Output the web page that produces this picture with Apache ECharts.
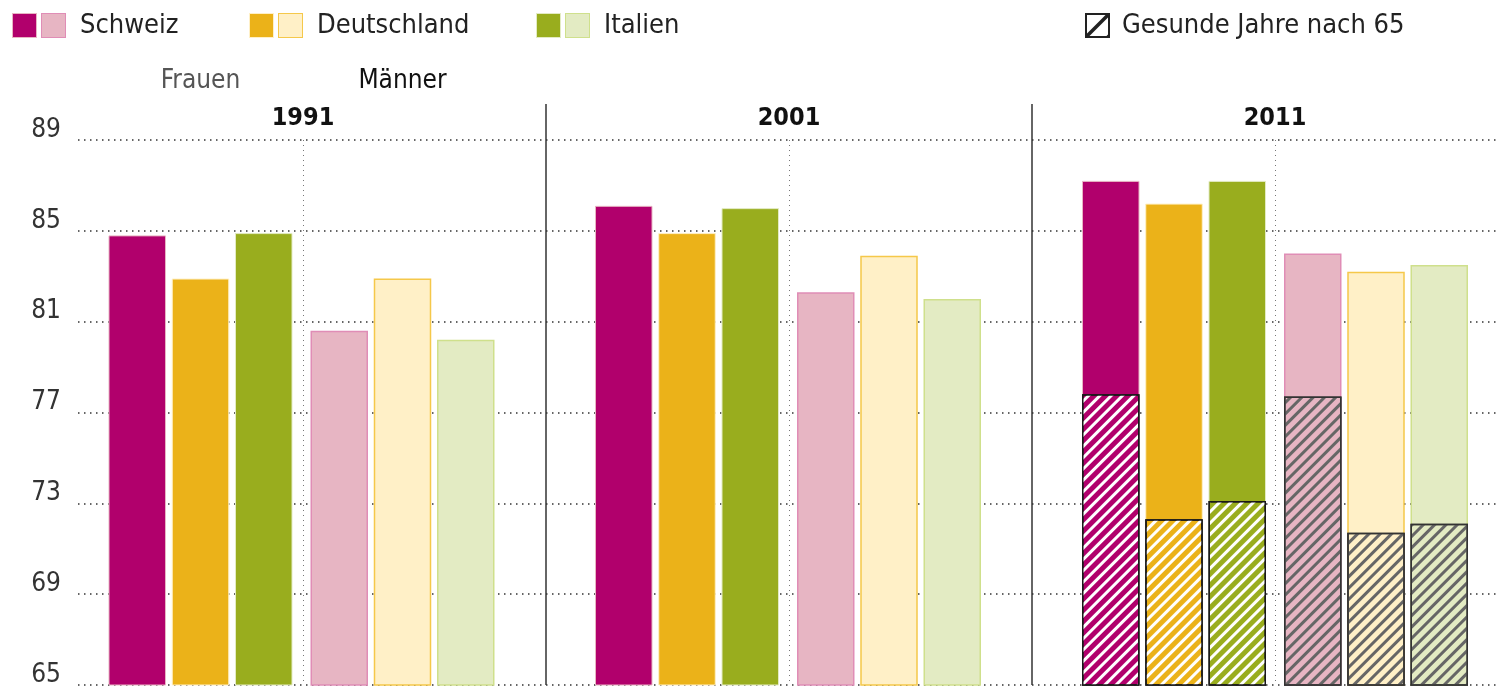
<!DOCTYPE html>
<html><head><meta charset="utf-8">
<script src="https://cdn.jsdelivr.net/npm/echarts@6/dist/echarts.min.js"></script>
<style>html,body{margin:0;padding:0;background:#fff}#c{width:1505px;height:689px}</style>
</head><body><div id="c"></div>
<script>
// ---- data ----
const years = ['1991', '2001', '2011'];
const sexes = ['Frauen', 'Männer'];
const countries = ['Schweiz', 'Deutschland', 'Italien'];
const healthyLabel = 'Gesunde Jahre nach 65';
const yMin = 65, yMax = 89, yStep = 4;

const schweizFrauen = [84.8, 86.1, 87.2];
const schweizMaenner = [80.6, 82.3, 84.0];
const deutschlandFrauen = [82.9, 84.9, 86.2];
const deutschlandMaenner = [82.9, 83.9, 83.2];
const italienFrauen = [84.9, 86.0, 87.2];
const italienMaenner = [80.2, 82.0, 83.5];

const gesundSchweizFrauen = [null, null, 77.8];
const gesundSchweizMaenner = [null, null, 77.7];
const gesundDeutschlandFrauen = [null, null, 72.3];
const gesundDeutschlandMaenner = [null, null, 71.7];
const gesundItalienFrauen = [null, null, 73.1];
const gesundItalienMaenner = [null, null, 72.1];

// ---- styles ----
const FONT = '"Liberation Sans Narrow","Arial Narrow","DejaVu Sans Condensed",sans-serif';
const dark = ['#b1006c', '#ebb219', '#99ad1e'];
const light = ['#e7b5c3', '#fff0c7', '#e3ebc3'];
const lightBorder = ['#e08db6', '#f5c84a', '#cfe08c'];
const sexLabelColor = ['#555555', '#111111'];

const F = [schweizFrauen, deutschlandFrauen, italienFrauen];
const M = [schweizMaenner, deutschlandMaenner, italienMaenner];
const GF = [gesundSchweizFrauen, gesundDeutschlandFrauen, gesundItalienFrauen];
const GM = [gesundSchweizMaenner, gesundDeutschlandMaenner, gesundItalienMaenner];

const decal = (color) => ({symbol: 'rect', symbolSize: 1, color: color, dashArrayX: [1, 0], dashArrayY: [3, 5], rotation: -Math.PI / 4});

function svgIcon(svg) { return 'image://data:image/svg+xml;charset=utf-8,' + encodeURIComponent(svg); }
function pairIcon(c) {
  return svgIcon("<svg xmlns='http://www.w3.org/2000/svg' width='63' height='25'>" +
    "<rect x='0.5' y='0.5' width='24' height='24' fill='" + dark[c] + "' stroke='" + light[c] + "'/>" +
    "<rect x='29.5' y='0.5' width='24' height='24' fill='" + light[c] + "' stroke='" + lightBorder[c] + "'/></svg>");
}
const hatchIcon = svgIcon("<svg xmlns='http://www.w3.org/2000/svg' width='32' height='25'>" +
  "<defs><clipPath id='k'><rect x='0' y='0' width='25' height='25'/></clipPath></defs>" +
  "<rect x='1' y='1' width='23' height='23' fill='#fff'/>" +
  "<g clip-path='url(#k)' stroke='#222' stroke-width='3.5'>" +
  "<path d='M-10 10 L10 -10'/><path d='M-2 27 L27 -2'/><path d='M12 35 L35 12'/></g>" +
  "<rect x='1' y='1' width='23' height='23' fill='none' stroke='#222' stroke-width='2'/></svg>");

const barLefts = [99.5, 586, 1073];
const barWidth = 57.5;

const xAxis = [
  {gridIndex: 0, type: 'category', data: [''], show: false},
  {gridIndex: 1, type: 'category', data: years, position: 'top',
    axisLine: {show: false}, axisTick: {show: false}, splitLine: {show: false},
    axisLabel: {fontFamily: FONT, fontSize: 25, fontWeight: 'bold', color: '#111', margin: 9}},
  {gridIndex: 1, type: 'category', data: years.flatMap(y => sexes.map(s => y + ' ' + s)), position: 'bottom',
    axisLine: {show: false}, axisTick: {show: false}, axisLabel: {show: false},
    splitLine: {show: true, interval: (i) => i % 2 === 1, lineStyle: {color: '#777', width: 1, type: [1, 4]}}},
  {gridIndex: 2, type: 'category', data: years,
    axisLine: {show: false}, axisTick: {show: false}, axisLabel: {show: false},
    splitLine: {show: true, interval: (i) => i > 0, lineStyle: {color: '#333', width: 1.5, type: 'solid'}}}
];
years.forEach((y, i) => xAxis.push({
  gridIndex: 3 + i, type: 'category', position: 'top',
  data: sexes.map((s, k) => ({value: s, textStyle: {color: sexLabelColor[k]}})),
  axisLine: {show: false}, axisTick: {show: false}, splitLine: {show: false},
  axisLabel: {show: i === 0, fontFamily: FONT, fontSize: 26, margin: 46}
}));
years.forEach((y, i) => xAxis.push({gridIndex: 3 + i, type: 'category', data: sexes, show: false}));

const yAxis = [
  {gridIndex: 0, type: 'value', min: yMin, max: yMax, interval: yStep,
    axisLine: {show: false}, axisTick: {show: false},
    axisLabel: {fontFamily: FONT, fontSize: 26, color: '#333', margin: 17, verticalAlign: 'bottom', lineHeight: 20},
    splitLine: {lineStyle: {color: '#333', width: 1.5, type: [1.5, 4.5]}}},
  {gridIndex: 1, type: 'value', show: false},
  {gridIndex: 2, type: 'value', show: false}
];
years.forEach((y, i) => yAxis.push({gridIndex: 3 + i, type: 'value', min: yMin, max: yMax, show: false}));

const series = [];
years.forEach((y, i) => {
  countries.forEach((c, k) => {
    series.push({
      type: 'bar', name: c, xAxisIndex: 4 + i, yAxisIndex: 3 + i, barWidth: barWidth, barGap: '10%',
      data: [
        {value: F[k][i], itemStyle: {color: dark[k], borderColor: light[k], borderWidth: 1}},
        {value: M[k][i], itemStyle: {color: light[k], borderColor: lightBorder[k], borderWidth: 1.5}}
      ]
    });
  });
  countries.forEach((c, k) => {
    if (GF[k][i] == null && GM[k][i] == null) return;
    series.push({
      type: 'bar', name: healthyLabel, xAxisIndex: 7 + i, yAxisIndex: 3 + i, barWidth: barWidth, barGap: '10%', z: 3,
      data: [
        {value: GF[k][i], itemStyle: {color: dark[k], borderColor: '#1a1a1a', borderWidth: 1.5, decal: decal('#ffffff')}},
        {value: GM[k][i], itemStyle: {color: light[k], borderColor: '#333', borderWidth: 1.5, decal: decal('#666666')}}
      ]
    });
  });
});

const legendBase = {top: 12, padding: 0, selectedMode: false, itemHeight: 25,
  textStyle: {fontFamily: FONT, fontSize: 27, color: '#222', lineHeight: 25}};
const legendLefts = [12, 249, 536];
const legend = countries.map((c, k) => Object.assign({}, legendBase,
  {left: legendLefts[k], itemWidth: 63, data: [{name: c, icon: pairIcon(k)}]}));
legend.push(Object.assign({}, legendBase, {left: 1085, itemWidth: 32, data: [{name: healthyLabel, icon: hatchIcon}]}));

const grid = [
  {left: 78, right: 5, top: 140, bottom: 4},
  {left: 60, width: 1458, top: 140, bottom: 4},
  {left: 60, width: 1458, top: 104, bottom: 4}
].concat(barLefts.map(l => ({left: l, width: 404, top: 140, bottom: 4})))
 .map(g => Object.assign(g, {outerBoundsMode: 'none', containLabel: false}));

const chart = echarts.init(document.getElementById('c'));
chart.setOption({animation: false, grid, xAxis, yAxis, series, legend, tooltip: {show: false}});
</script></body></html>
